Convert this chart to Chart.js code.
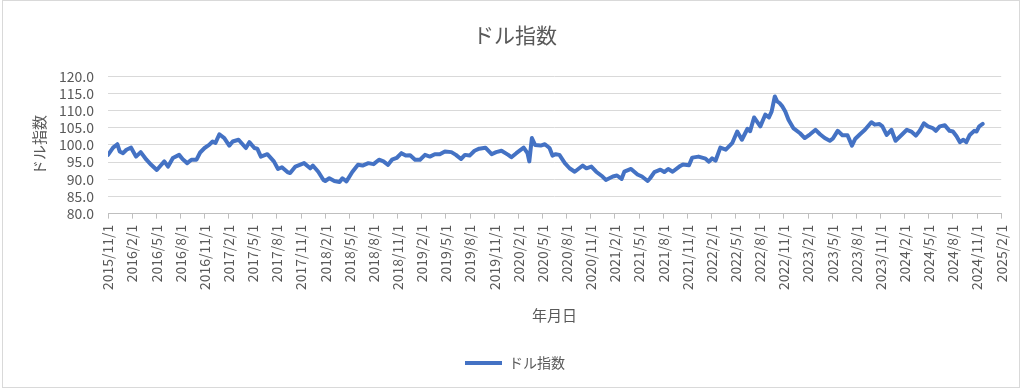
<!DOCTYPE html>
<html>
<head>
<meta charset="utf-8">
<script src="https://cdn.jsdelivr.net/npm/chart.js@4.4.1/dist/chart.umd.min.js"></script>
<style>
  html, body { margin: 0; padding: 0; background: #fff; }
  #wrap { width: 1024px; height: 390px; }
</style>
</head>
<body>
<div id="wrap"><canvas id="myChart"></canvas></div>
<script>
// ドル指数 (読み取り値)
const dates = [
  '2015/11/1','2015/11/20','2015/12/6','2015/12/15','2015/12/28',
  '2016/1/10','2016/1/28','2016/2/15','2016/3/3','2016/3/25','2016/4/12','2016/5/3','2016/5/18',
  '2016/6/1','2016/6/15','2016/7/3','2016/7/27','2016/8/10','2016/8/27','2016/9/12','2016/10/1',
  '2016/10/15','2016/11/1','2016/11/18','2016/12/1','2016/12/12','2016/12/27',
  '2017/1/15','2017/2/3','2017/2/15','2017/3/8','2017/4/5','2017/4/18','2017/5/7','2017/5/18',
  '2017/6/1','2017/6/25','2017/7/20','2017/8/5','2017/8/20','2017/9/10','2017/9/20','2017/10/10',
  '2017/11/12','2017/12/5','2017/12/15',
  '2018/1/5','2018/1/25','2018/2/1','2018/2/15','2018/3/5','2018/3/25','2018/4/5','2018/4/20',
  '2018/5/12','2018/6/3','2018/6/20','2018/7/12','2018/8/1','2018/8/22','2018/9/8','2018/9/25',
  '2018/10/10','2018/10/28','2018/11/15','2018/12/1','2018/12/18',
  '2019/1/6','2019/1/25','2019/2/12','2019/3/1','2019/3/20','2019/4/8','2019/4/27','2019/5/22',
  '2019/6/8','2019/6/27','2019/7/12','2019/7/30','2019/8/18','2019/9/5','2019/9/28','2019/10/22',
  '2019/11/8','2019/11/28','2019/12/24',
  '2020/1/5','2020/1/24','2020/2/20','2020/3/5','2020/3/12','2020/3/22','2020/4/3','2020/4/24',
  '2020/5/10','2020/5/28','2020/6/8','2020/6/20','2020/7/4','2020/7/25','2020/8/12','2020/9/1',
  '2020/10/1','2020/10/15','2020/11/3','2020/11/21','2020/12/15','2020/12/28',
  '2021/1/24','2021/2/8','2021/2/24','2021/3/6','2021/4/1','2021/4/25','2021/5/12','2021/6/3',
  '2021/6/12','2021/6/28','2021/7/21','2021/8/5','2021/8/20','2021/9/6','2021/10/1','2021/10/15',
  '2021/11/7','2021/11/19','2021/12/13',
  '2022/1/9','2022/1/22','2022/2/3','2022/2/15','2022/3/4','2022/3/25','2022/4/18','2022/5/7',
  '2022/5/25','2022/6/15','2022/6/25','2022/7/10','2022/8/3','2022/8/22','2022/9/5','2022/9/15',
  '2022/9/27','2022/10/6','2022/10/15','2022/10/25','2022/11/6','2022/11/18','2022/12/6',
  '2023/1/1','2023/1/19','2023/2/8','2023/2/27','2023/3/16','2023/4/3','2023/4/22','2023/5/3',
  '2023/5/22','2023/6/9','2023/6/28','2023/7/15','2023/7/28','2023/8/15','2023/9/3','2023/9/27',
  '2023/10/10','2023/10/28','2023/11/8','2023/11/24','2023/12/12','2023/12/28',
  '2024/1/19','2024/2/9','2024/2/25','2024/3/13','2024/3/28','2024/4/13','2024/4/28','2024/5/16',
  '2024/5/28','2024/6/12','2024/7/1','2024/7/19','2024/8/1','2024/8/15','2024/8/28','2024/9/10',
  '2024/9/21','2024/10/3','2024/10/21','2024/10/30','2024/11/9','2024/11/22'
];
const dollarIndex = [
  97.1, 99.2, 100.2, 98.1, 97.6,
  98.6, 99.2, 96.6, 97.9, 95.7, 94.2, 92.7, 94.0,
  95.2, 93.7, 96.2, 97.1, 95.8, 94.7, 95.7, 95.7,
  97.8, 99.1, 100.0, 101.0, 100.6, 103.1,
  102.0, 99.8, 101.0, 101.5, 99.1, 100.8, 99.1, 98.9,
  96.6, 97.3, 95.2, 93.0, 93.5, 92.1, 91.8, 93.7,
  94.7, 93.2, 94.0,
  92.2, 89.8, 89.5, 90.3, 89.5, 89.2, 90.3, 89.4,
  92.1, 94.2, 94.0, 94.7, 94.4, 95.7, 95.2, 94.2,
  95.7, 96.2, 97.6, 96.9, 97.0,
  95.7, 95.7, 97.1, 96.6, 97.3, 97.3, 98.1, 97.9,
  97.1, 95.9, 97.1, 96.9, 98.3, 98.9, 99.2, 97.3,
  97.9, 98.3, 97.1,
  96.4, 97.6, 99.2, 97.6, 95.2, 102.0, 100.0, 99.8,
  100.2, 99.1, 96.9, 97.3, 97.1, 94.7, 93.2, 92.2,
  94.0, 93.2, 93.7, 92.2, 90.8, 89.8,
  90.8, 91.1, 90.1, 92.2, 93.0, 91.4, 90.8, 89.5,
  90.3, 92.1, 92.8, 92.1, 93.0, 92.2, 93.7, 94.3,
  94.1, 96.3, 96.6,
  96.0, 95.1, 96.1, 95.4, 99.2, 98.6, 100.5, 103.9,
  101.5, 104.7, 104.0, 108.0, 105.4, 108.8, 108.0, 109.7,
  114.1, 112.7, 112.2, 111.3, 109.7, 107.3, 104.9,
  103.4, 102.0, 103.1, 104.4, 103.1, 102.0, 101.2, 101.8,
  104.1, 102.8, 102.8, 99.8, 101.8, 103.1, 104.4, 106.6,
  105.9, 106.1, 105.4, 102.9, 104.4, 101.2,
  102.8, 104.4, 103.9, 102.7, 104.1, 106.3, 105.4, 104.9,
  104.1, 105.4, 105.7, 104.1, 103.9, 102.5, 100.8, 101.5,
  100.8, 102.8, 104.1, 103.9, 105.4, 106.1
];
const yTicks = [80, 85, 90, 95, 100, 105, 110, 115, 120];
const startYear = 2015, startMonth = 11;   // x軸の起点 2015/11/1
const endMonthIndex = 111;                  // 2025/2/1

const gray = '#595959';
const jpFont = "'Noto Sans CJK JP', 'Noto Sans', sans-serif";

// 日付 → 起点からの月数 (小数)
function toMonthIndex(s) {
  const [y, m, d] = s.split('/').map(Number);
  const days = new Date(y, m, 0).getDate();
  return (y - startYear) * 12 + (m - startMonth) + (d - 1) / days;
}
function monthLabel(i) {
  const total = startMonth - 1 + i;
  const y = startYear + Math.floor(total / 12);
  const m = (total % 12) + 1;
  return y + '/' + m + '/1';
}

const points = dates.map((d, i) => ({ x: toMonthIndex(d), y: dollarIndex[i] }));

// 背景と外枠
const frame = {
  id: 'frame',
  beforeDraw(chart) {
    const c = chart.ctx;
    c.save();
    c.fillStyle = '#fff';
    c.fillRect(0, 0, chart.width, chart.height);
    c.strokeStyle = '#d9d9d9';
    c.lineWidth = 1;
    c.strokeRect(2.5, 0.5, 1017, 387);
    c.restore();
  }
};

const ctx = document.getElementById('myChart').getContext('2d');
const myChart = new Chart(ctx, {
  type: 'line',
  data: {
    datasets: [{
      label: 'ドル指数',
      data: points,
      borderColor: '#4472C4',
      backgroundColor: '#4472C4',
      borderWidth: 4,
      borderJoinStyle: 'round',
      borderCapStyle: 'round',
      pointRadius: 0,
      tension: 0
    }]
  },
  options: {
    responsive: true,
    maintainAspectRatio: false,
    animation: false,
    layout: { padding: { left: 22, right: 16, top: 0, bottom: 10 } },
    plugins: {
      title: {
        display: true,
        text: 'ドル指数',
        color: gray,
        font: { family: jpFont, size: 21, weight: 'normal' },
        padding: { top: 22, bottom: 29 }
      },
      legend: {
        display: true,
        position: 'bottom',
        labels: {
          color: gray,
          font: { family: jpFont, size: 14 },
          usePointStyle: true,
          pointStyle: 'line',
          pointStyleWidth: 37,
          boxHeight: 4,
          padding: 10
        }
      },
      tooltip: { enabled: false }
    },
    scales: {
      x: {
        type: 'linear',
        min: 0,
        max: endMonthIndex,
        afterBuildTicks: axis => {
          const t = [];
          for (let i = 0; i <= endMonthIndex; i += 3) t.push({ value: i });
          axis.ticks = t;
        },
        ticks: {
          autoSkip: false,
          maxRotation: 90,
          minRotation: 90,
          padding: 6,
          color: gray,
          font: { family: jpFont, size: 14 },
          callback: v => monthLabel(v)
        },
        grid: { drawOnChartArea: false, drawTicks: true, tickLength: 5, color: '#bfbfbf' },
        border: { display: true, color: '#bfbfbf' },
        title: {
          display: true,
          text: '年月日',
          color: gray,
          font: { family: jpFont, size: 15 },
          padding: { top: 10, bottom: 22 }
        }
      },
      y: {
        min: 80,
        max: 120,
        afterBuildTicks: axis => { axis.ticks = yTicks.map(v => ({ value: v })); },
        afterFit: axis => { axis.width = 86; },
        ticks: {
          autoSkip: false,
          padding: 14,
          color: gray,
          font: { family: jpFont, size: 14 },
          callback: v => v.toFixed(1)
        },
        grid: { color: '#d9d9d9', drawTicks: false },
        border: { display: false },
        title: {
          display: true,
          text: 'ドル指数',
          color: gray,
          font: { family: jpFont, size: 15 },
          padding: { top: 8, bottom: 8 }
        }
      }
    }
  },
  plugins: [frame]
});
</script>
</body>
</html>
